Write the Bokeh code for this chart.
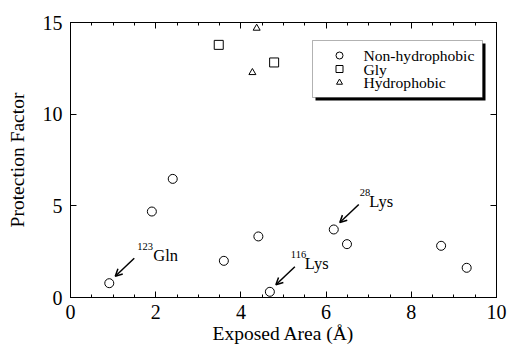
from bokeh.plotting import figure
from bokeh.models import (Range1d, LinearAxis, FixedTicker, Arrow, OpenHead,
                          ColumnDataSource, BoxAnnotation)
from bokeh.core.properties import value
from bokeh.embed import file_html
from bokeh.resources import INLINE

# ---- data ----
nonhyd_x = [0.91, 1.91, 2.40, 3.60, 4.41, 4.68, 6.18, 6.49, 8.70, 9.30]
nonhyd_y = [0.78, 4.69, 6.47, 2.00, 3.33, 0.31, 3.71, 2.91, 2.82, 1.62]
gly_x = [3.48, 4.78]
gly_y = [13.78, 12.82]
hyd_x = [4.27, 4.37]
hyd_y = [12.27, 14.69]

ann_x = [0.91, 4.68, 6.18]
ann_y = [0.78, 0.31, 3.71]
ann_sup = ["123", "116", "28"]
ann_name = ["Gln", "Lys", "Lys"]

legend_labels = ["Non-hydrophobic", "Gly", "Hydrophobic"]
legend_markers = ["circle", "square", "triangle"]

x_ticks = [0, 2, 4, 6, 8, 10]
y_ticks = [0, 5, 10, 15]
x_label = "Exposed Area (Å)"
y_label = "Protection Factor"

# ---- layout / style ----
ann_sup_dx = [28, 21, 26]      # label placement (screen px) relative to the point
ann_sup_w = [16, 14, 9.5]
legend_marker_size = [7, 7, 6]

FONT = "Liberation Serif"
XMIN, XMAX, YMIN, YMAX = 0, 10, 0, 15
FW, FH = 426, 275

p = figure(output_backend="svg", toolbar_location=None,
           x_range=Range1d(XMIN, XMAX), y_range=Range1d(YMIN, YMAX),
           min_border_left=70, min_border_right=12, min_border_top=22, min_border_bottom=48,
           frame_width=FW, frame_height=FH, x_axis_type=None, y_axis_type=None)
p.grid.visible = False
p.outline_line_color = "black"
p.outline_line_width = 1
p.background_fill_color = "white"
p.border_fill_color = "white"

def make_axis(show_labels, ticks, minor):
    ax = LinearAxis(ticker=FixedTicker(ticks=ticks,
                    minor_ticks=[t / 2 for t in range(0, 21)] if minor else []))
    ax.major_tick_in = 6
    ax.major_tick_out = 0
    ax.minor_tick_in = 3
    ax.minor_tick_out = 0
    ax.axis_line_color = "black"
    ax.major_tick_line_color = "black"
    ax.minor_tick_line_color = "black" if minor else None
    if show_labels:
        ax.major_label_text_font = FONT
        ax.major_label_text_font_size = "20px"
        ax.major_label_text_color = "black"
        ax.axis_label_text_font = FONT
        ax.axis_label_text_font_size = "19.5px"
        ax.axis_label_text_font_style = "normal"
        ax.axis_label_text_color = "black"
    else:
        ax.major_label_text_font_size = "0px"
        ax.major_label_text_color = None
    return ax

xb = make_axis(True, x_ticks, True)
xb.axis_label = x_label
xb.major_label_standoff = 7
xb.axis_label_standoff = 1
p.add_layout(xb, "below")
yl = make_axis(True, y_ticks, False)
yl.axis_label = y_label
yl.major_label_standoff = 8
yl.axis_label_standoff = 12
p.add_layout(yl, "left")
xt = make_axis(False, x_ticks, True)
p.add_layout(xt, "above")
yr = make_axis(False, y_ticks, False)
p.add_layout(yr, "right")

p.scatter(nonhyd_x, nonhyd_y, marker="circle", size=9, fill_color=None,
          line_color="black", line_width=1)
p.scatter(gly_x, gly_y, marker="square", size=9, fill_color=None,
          line_color="black", line_width=1)
p.scatter(hyd_x, hyd_y, marker="triangle", size=7, fill_color=None,
          line_color="black", line_width=1)

# pixel -> data helpers (frame pixels measured from top-left of the frame)
sx = FW / (XMAX - XMIN)
sy = FH / (YMAX - YMIN)
def dx(px): return XMIN + px / sx
def dy(py): return YMAX - py / sy

# annotations with arrows
for x, y in zip(ann_x, ann_y):
    p.add_layout(Arrow(end=OpenHead(size=7, line_width=1.5, line_color="black"),
                       x_start=x + 25 / sx, y_start=y + 25 / sy,
                       x_end=x + 6 / sx, y_end=y + 7 / sy,
                       line_color="black", line_width=1.5))

src = ColumnDataSource(dict(x=ann_x, y=ann_y, sup=ann_sup, name=ann_name,
                            xs=ann_sup_dx,
                            xn=[a + w for a, w in zip(ann_sup_dx, ann_sup_w)]))
p.text(x="x", y="y", text="sup", source=src, x_offset="xs", y_offset=-37,
       text_font=value(FONT), text_font_size="10.5px", text_baseline="alphabetic",
       text_color="black")
p.text(x="x", y="y", text="name", source=src, x_offset="xn", y_offset=-28,
       text_font=value(FONT), text_font_size="16.5px", text_baseline="alphabetic",
       text_color="black")

# legend box (frame pixels), with drop shadow
BL, BR, BT, BB, SH = 242, 412, 18, 75, 3
p.add_layout(BoxAnnotation(left=BL + SH, right=BR + SH, bottom=FH - BB - SH, top=FH - BT - SH,
                           left_units="screen", right_units="screen",
                           bottom_units="screen", top_units="screen",
                           fill_color="black", fill_alpha=1, line_color=None,
                           level="underlay"))
p.add_layout(BoxAnnotation(left=BL, right=BR, bottom=FH - BB, top=FH - BT,
                           left_units="screen", right_units="screen",
                           bottom_units="screen", top_units="screen",
                           fill_color="white", fill_alpha=1, line_color="black",
                           line_width=1, level="underlay"))
ROW0, ROWH, MX, TX = 33, 13.5, 269, 293
rows_y = [dy(ROW0 + i * ROWH) for i in range(len(legend_labels))]
leg = ColumnDataSource(dict(x=[dx(MX)] * len(legend_labels), y=rows_y,
                            marker=legend_markers, size=legend_marker_size,
                            tx=[dx(TX)] * len(legend_labels), label=legend_labels))
p.scatter(x="x", y="y", marker="marker", size="size", source=leg, fill_color=None,
          line_color="black", line_width=1)
p.text(x="tx", y="y", text="label", source=leg, text_font=value(FONT),
       text_font_size="15.6px", text_baseline="middle", text_color="black")

open("out.html", "w").write(file_html(p, INLINE))
